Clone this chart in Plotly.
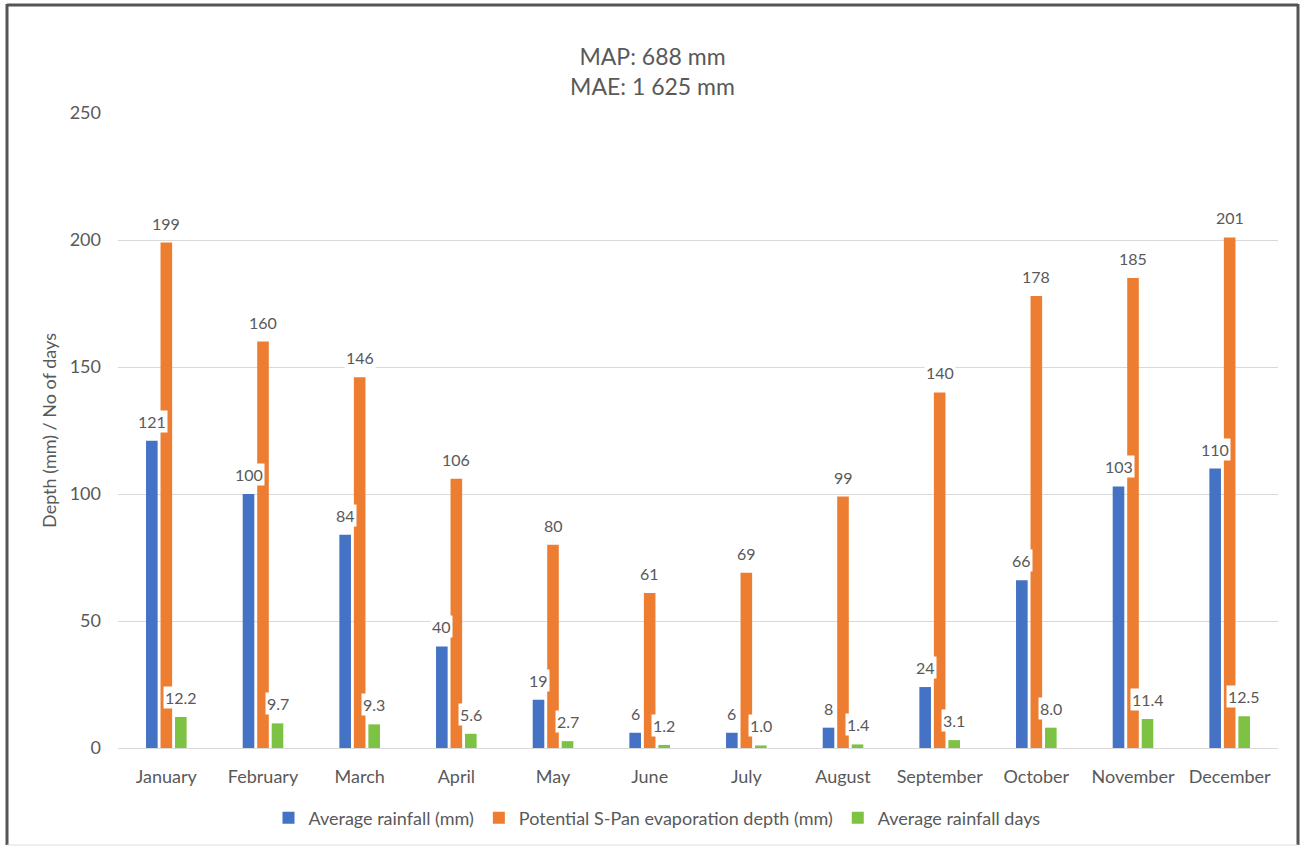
import plotly.graph_objects as go

months = ["January", "February", "March", "April", "May", "June", "July",
          "August", "September", "October", "November", "December"]
rainfall = [121, 100, 84, 40, 19, 6, 6, 8, 24, 66, 103, 110]
evaporation = [199, 160, 146, 106, 80, 61, 69, 99, 140, 178, 185, 201]
rain_days = [12.2, 9.7, 9.3, 5.6, 2.7, 1.2, 1.0, 1.4, 3.1, 8.0, 11.4, 12.5]

series = [
    ("Average rainfall (mm)", rainfall, "#4472C4", "{:.0f}"),
    ("Potential S-Pan evaporation depth (mm)", evaporation, "#ED7D31", "{:.0f}"),
    ("Average rainfall days", rain_days, "#7DC242", "{:.1f}"),
]

FONT = "Lato"
GRAY = "#595959"
W, H = 1305, 848
ML, MR, MT, MB = 118, 27, 113, 100
BARGAP = 0.55
plot_w = W - ML - MR
cat_w = plot_w / len(months)
slot = cat_w * (1 - BARGAP) / 3

fig = go.Figure()
for name, vals, col, fmt in series:
    fig.add_trace(go.Bar(x=months, y=vals, name=name, marker_color=col,
                         marker_line_width=0))

annotations = []
for i, (name, vals, col, fmt) in enumerate(series):
    shift = (i - 1) * slot
    for m, v in zip(months, vals):
        annotations.append(dict(
            x=m, y=v, xref="x", yref="y", text=fmt.format(v),
            showarrow=False, yanchor="bottom", xanchor="center",
            xshift=shift, yshift=8, bgcolor="white", borderpad=1,
            font=dict(family=FONT, size=16, color=GRAY)))

# frame
plot_h = H - MT - MB
def px_x(p):
    return (p - ML) / plot_w
def px_y(p):
    return (H - MB - p) / plot_h

shapes = [
    dict(type="line", xref="paper", yref="paper", x0=px_x(7), x1=px_x(7),
         y0=px_y(4), y1=px_y(845), line=dict(color="#555555", width=3)),
    dict(type="line", xref="paper", yref="paper", x0=px_x(7), x1=px_x(1298),
         y0=px_y(5), y1=px_y(5), line=dict(color="#555555", width=3)),
    dict(type="line", xref="paper", yref="paper", x0=px_x(1298), x1=px_x(1298),
         y0=px_y(4), y1=px_y(845), line=dict(color="#555555", width=3)),
    dict(type="line", xref="paper", yref="paper", x0=px_x(7), x1=px_x(1298),
         y0=px_y(845), y1=px_y(845), line=dict(color="#dddddd", width=1)),
]

fig.update_layout(
    width=W, height=H,
    margin=dict(l=ML, r=MR, t=MT, b=MB, autoexpand=False),
    paper_bgcolor="white", plot_bgcolor="white",
    barmode="group", bargap=BARGAP, bargroupgap=0.2,
    font=dict(family=FONT, size=18, color=GRAY),
    title=dict(text="MAP: 688 mm<br>MAE: 1 625 mm", x=0.5, xanchor="center",
               xref="container", y=1 - 65 / H, yanchor="middle",
               font=dict(family=FONT, size=23, color=GRAY)),
    legend=dict(orientation="h", x=px_x(657), xanchor="center",
                y=px_y(818), yanchor="middle",
                font=dict(family=FONT, size=18, color=GRAY),
                itemsizing="constant"),
    annotations=annotations,
    shapes=shapes,
    showlegend=True,
)
fig.update_yaxes(range=[0, 250], dtick=50, showgrid=True, gridcolor="#d9d9d9",
                 gridwidth=1, zeroline=False, showline=False,
                 ticklabelstandoff=16,
                 tickfont=dict(family=FONT, size=18, color=GRAY),
                 title=dict(text="Depth (mm) / No of days", standoff=8,
                            font=dict(family=FONT, size=18, color=GRAY)))
fig.update_xaxes(showline=True, linecolor="#d9d9d9", linewidth=1,
                 ticks="", ticklabelstandoff=12, tickangle=0,
                 tickfont=dict(family=FONT, size=18, color=GRAY))

fig.write_html("out.html", config={"displayModeBar": False},
               post_script="document.body.style.margin='0';")
